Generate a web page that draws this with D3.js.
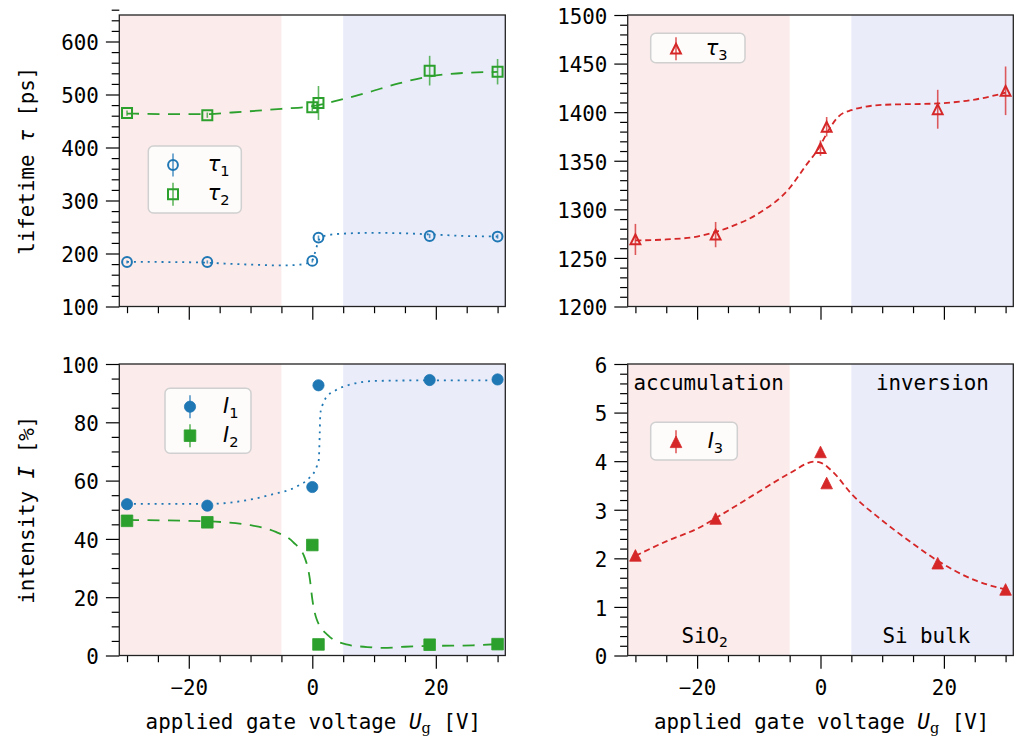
<!DOCTYPE html>
<html>
<head>
<meta charset="utf-8">
<script src="https://cdn.jsdelivr.net/npm/d3@7"></script>
<style>
  body { margin: 0; background: #fff; }
  svg text { font-family: "DejaVu Sans Mono", monospace; fill: #000; }
</style>
</head>
<body>
<div id="chart"></div>
<script>
// gate voltages of the measurements
var voltage = [-30, -17, 0, 1, 19, 30];

// lifetimes [ps]
var tau1 = [184, 184, 186, 230, 233, 232];
var tau1Err = [3, 3, 3, 4, 4, 4];
var tau2 = [465, 461, 476, 484, 545, 543];
var tau2Err = [5, 5, 7, 32, 28, 24];
var tau3 = [1269, 1274, 1363, 1385, 1403, 1422];
var tau3Err = [16, 13, 8, 10, 20, 25];

// intensities [%]
var int1 = [51.9, 51.4, 57.8, 92.7, 94.5, 94.7];
var int1Err = [0.8, 0.8, 0.8, 0.8, 0.8, 0.8];
var int2 = [46.2, 45.7, 37.9, 3.8, 3.7, 3.9];
var int2Err = [0.8, 0.8, 0.8, 0.8, 0.8, 0.8];
var int3 = [2.06, 2.82, 4.19, 3.55, 1.90, 1.36];
var int3Err = [0.08, 0.08, 0.08, 0.08, 0.08, 0.08];

// fitted curves as [voltage, value]
var fitTau1 = [[-30, 184.3], [-20, 183.5], [-10, 179], [-5, 177.5], [-2, 179], [-1, 181], [0, 187],
  [0.5, 204], [1, 224], [1.5, 231], [2.5, 234.5], [5, 237.5], [10, 239], [15, 238], [20, 235.5],
  [25, 233], [30, 232]];
var fitTau2 = [[-30, 464], [-22, 463], [-17, 463], [-13, 466], [-5, 473], [0, 478], [3.5, 487],
  [9, 504], [14, 521], [19, 534], [25, 541], [30, 542.5]];
var fitTau3 = [[-30, 1268], [-25, 1269], [-20, 1272], [-15, 1281], [-10, 1296], [-5, 1322],
  [-2.5, 1344], [0, 1366], [1, 1378], [3, 1396], [5, 1402], [10, 1407.5], [19, 1409], [25, 1413],
  [30, 1420]];
var fitInt1 = [[-30, 52], [-17, 52], [-10, 53.5], [-6.6, 55.2], [-2.3, 58.2], [-0.5, 60.9],
  [0.7, 64.7], [1.05, 67.2], [1.21, 76.6], [1.3, 83], [1.65, 85.9], [2.14, 88.2], [3.8, 91],
  [5.9, 92.8], [10.3, 94.2], [20, 94.4], [30, 94.4]];
var fitInt2 = [[-30, 46.5], [-17, 46], [-10, 44.7], [-5.9, 42.4], [-3.1, 38.9], [-1.2, 33.4],
  [-0.4, 26.3], [0.03, 18.9], [0.68, 12.6], [2.56, 6.9], [5.5, 3.8], [8.9, 2.9], [11.5, 2.6],
  [15, 3.0], [20, 3.3], [26, 3.5], [30, 3.9]];
var fitInt3 = [[-30, 2.05], [-25, 2.35], [-20, 2.61], [-15, 2.98], [-10, 3.37], [-5, 3.75],
  [-1, 3.99], [0, 3.97], [2, 3.78], [5, 3.33], [10, 2.78], [15, 2.30], [19, 1.95], [25, 1.55],
  [30, 1.36]];

// axis ranges and ticks
var xDomain = [-31.25, 31.25];
var xMajor = [-20, 0, 20];
var xMinor = [-30, -25, -15, -10, -5, 5, 10, 15, 25, 30];
var accumulationEdge = -5;
var inversionEdge = 5;

var tauDomain = [100, 650];
var tauMajor = [100, 200, 300, 400, 500, 600];
var tau3Domain = [1200, 1500];
var tau3Major = [1200, 1250, 1300, 1350, 1400, 1450, 1500];
var intDomain = [0, 100];
var intMajor = [0, 20, 40, 60, 80, 100];
var int3Domain = [0, 6];
var int3Major = [0, 1, 2, 3, 4, 5, 6];

var svgWidth = 1015;
var svgHeight = 736;

var blue = "#1f77b4";
var green = "#2ca02c";
var red = "#d62728";
var pinkShade = "#fbebeb";
var blueShade = "#eaecf9";
var fontSize = 20.83;

var svg = d3.select("#chart")
  .append("svg")
  .attr("width", svgWidth)
  .attr("height", svgHeight);

function range(a, b, step) {
  var out = [];
  var n = Math.round((b - a) / step);
  for (var i = 0; i <= n; i++) out.push(+(a + i * step).toFixed(6));
  return out;
}

// builds one subplot: shading, frame, ticks
function makePanel(left, top, width, height, yDomain, yMajor, yMinorStep, showXLabels) {
  var g = svg.append("g").attr("transform", `translate(${left}, ${top})`);
  var x = d3.scaleLinear().domain(xDomain).range([0, width]);
  var y = d3.scaleLinear().domain(yDomain).range([height, 0]);

  g.append("rect")
    .attr("x", 0).attr("y", 0)
    .attr("width", x(accumulationEdge)).attr("height", height)
    .attr("fill", pinkShade);
  g.append("rect")
    .attr("x", x(inversionEdge)).attr("y", 0)
    .attr("width", width - x(inversionEdge)).attr("height", height)
    .attr("fill", blueShade);

  var yMinor = range(yDomain[0], yDomain[1], yMinorStep)
    .filter(v => yMajor.indexOf(v) < 0);

  // minor ticks
  g.append("g")
    .call(d3.axisLeft(y).tickValues(yMinor).tickSize(7.6).tickFormat(""))
    .call(a => a.select(".domain").remove());
  g.append("g")
    .attr("transform", `translate(0, ${height})`)
    .call(d3.axisBottom(x).tickValues(xMinor).tickSize(6.7).tickFormat(""))
    .call(a => a.select(".domain").remove());

  // major ticks
  var yAxis = g.append("g")
    .call(d3.axisLeft(y).tickValues(yMajor).tickSize(13.4).tickPadding(7)
      .tickFormat(d => d3.format("d")(d).replace("-", "\u2212")));
  yAxis.select(".domain").remove();
  yAxis.selectAll("text")
    .attr("dy", null)
    .attr("y", 8.3)
    .attr("font-size", fontSize)
    .attr("font-family", "DejaVu Sans Mono");

  var xAxis = g.append("g")
    .attr("transform", `translate(0, ${height})`)
    .call(d3.axisBottom(x).tickValues(xMajor).tickSize(13.3)
      .tickFormat(d => showXLabels ? d3.format("d")(d).replace("-", "\u2212") : ""));
  xAxis.select(".domain").remove();
  xAxis.selectAll("text")
    .attr("dy", null)
    .attr("y", 39)
    .attr("font-size", fontSize)
    .attr("font-family", "DejaVu Sans Mono");

  g.selectAll(".tick line").attr("stroke", "#000").attr("stroke-width", 1.2);

  g.append("rect")
    .attr("width", width).attr("height", height)
    .attr("fill", "none")
    .attr("stroke", "#222")
    .attr("stroke-width", 1.3);

  return { g: g, x: x, y: y, width: width, height: height };
}

function markerPath(shape, s) {
  if (shape === "circle") return d3.symbol(d3.symbolCircle, Math.PI * s * s)();
  if (shape === "square") return `M${-s},${-s}H${s}V${s}H${-s}Z`;
  return `M0,${-s}L${s},${s}L${-s},${s}Z`;
}

function drawMarker(sel, shape, filled, color, cx, cy) {
  var s = filled ? { circle: 5.6, square: 5.8, triangle: 5.8 }[shape]
                 : { circle: 4.9, square: 5, triangle: 4.9 }[shape];
  sel.append("path")
    .attr("transform", `translate(${cx}, ${cy})`)
    .attr("d", markerPath(shape, s))
    .attr("fill", filled ? color : "none")
    .attr("stroke", color)
    .attr("stroke-width", filled ? 0.8 : 2);
}

// fit curve + error bars + markers for one series
function drawSeries(p, values, errs, fit, color, shape, filled, dash) {
  var line = d3.line()
    .x(d => p.x(d[0]))
    .y(d => p.y(d[1]))
    .curve(d3.curveMonotoneX);

  p.g.append("path")
    .datum(fit)
    .attr("d", line)
    .attr("fill", "none")
    .attr("stroke", color)
    .attr("stroke-width", 1.8)
    .attr("stroke-dasharray", dash);

  p.g.selectAll(null)
    .data(voltage)
    .enter()
    .append("line")
    .attr("x1", d => p.x(d))
    .attr("x2", d => p.x(d))
    .attr("y1", (d, i) => p.y(values[i] - errs[i]))
    .attr("y2", (d, i) => p.y(values[i] + errs[i]))
    .attr("stroke", color)
    .attr("stroke-opacity", 0.75)
    .attr("stroke-width", 1.6);

  voltage.forEach(function(v, i) {
    drawMarker(p.g, shape, filled, color, p.x(v), p.y(values[i]));
  });
}

function symbolLabel(sel, name, sub) {
  sel.append("tspan")
    .attr("font-family", "DejaVu Sans")
    .attr("font-style", "italic")
    .text(name);
  sel.append("tspan")
    .attr("font-family", "DejaVu Sans")
    .attr("font-size", fontSize * 0.7)
    .attr("dy", 5)
    .text(sub);
}

// rounded legend box with errorbar style handles
function drawLegend(p, bx, by, bw, bh, markerX, textX, items) {
  var lg = p.g.append("g").attr("transform", `translate(${bx}, ${by})`);
  lg.append("rect")
    .attr("width", bw).attr("height", bh)
    .attr("rx", 5).attr("ry", 5)
    .attr("fill", "#fff").attr("fill-opacity", 0.8)
    .attr("stroke", "#d0d0d0").attr("stroke-width", 1.5);
  items.forEach(function(it) {
    lg.append("line")
      .attr("x1", markerX).attr("x2", markerX)
      .attr("y1", it.row - 11.5).attr("y2", it.row + 11.5)
      .attr("stroke", it.color).attr("stroke-opacity", 0.75).attr("stroke-width", 1.6);
    drawMarker(lg, it.shape, it.filled, it.color, markerX, it.row);
    var t = lg.append("text")
      .attr("x", textX).attr("y", it.row + 6)
      .attr("font-size", fontSize);
    symbolLabel(t, it.name, it.sub);
  });
}

var leftX = 119.3, rightX = 627.7, panelW = 386, topY = 15, bottomY = 364, panelH = 291.5;

var pTau = makePanel(leftX, topY, panelW, panelH, tauDomain, tauMajor, 20, false);
var pTau3 = makePanel(rightX, topY, panelW - 0.4, panelH, tau3Domain, tau3Major, 10, false);
var pInt = makePanel(leftX, bottomY, panelW, panelH, intDomain, intMajor, 5, true);
var pInt3 = makePanel(rightX, bottomY, panelW - 0.4, panelH, int3Domain, int3Major, 0.2, true);

drawSeries(pTau, tau1, tau1Err, fitTau1, blue, "circle", false, "2,4.9");
drawSeries(pTau, tau2, tau2Err, fitTau2, green, "square", false, "12,8.5");
drawSeries(pTau3, tau3, tau3Err, fitTau3, red, "triangle", false, "6,3.8");
drawSeries(pInt, int1, int1Err, fitInt1, blue, "circle", true, "2,4.9");
drawSeries(pInt, int2, int2Err, fitInt2, green, "square", true, "12,8.5");
drawSeries(pInt3, int3, int3Err, fitInt3, red, "triangle", true, "6,3.8");

drawLegend(pTau, 29, 131, 93, 67, 24.7, 59.5, [
  { row: 19, color: blue, shape: "circle", filled: false, name: "τ", sub: "1" },
  { row: 48.3, color: green, shape: "square", filled: false, name: "τ", sub: "2" }
]);
drawLegend(pTau3, 23, 18.3, 94.3, 29.4, 25.3, 55, [
  { row: 15.4, color: red, shape: "triangle", filled: false, name: "τ", sub: "3" }
]);
drawLegend(pInt, 45.7, 24.3, 86, 65, 25, 58, [
  { row: 18.4, color: blue, shape: "circle", filled: true, name: "I", sub: "1" },
  { row: 47.4, color: green, shape: "square", filled: true, name: "I", sub: "2" }
]);
drawLegend(pInt3, 23, 58.3, 86.6, 37.7, 25.3, 57, [
  { row: 19.5, color: red, shape: "triangle", filled: true, name: "I", sub: "3" }
]);

// region annotations
var accCenter = (xDomain[0] + accumulationEdge) / 2;
var invCenter = (xDomain[1] + inversionEdge) / 2;
pInt3.g.append("text")
  .attr("x", pInt3.x(accCenter)).attr("y", 26)
  .attr("text-anchor", "middle").attr("font-size", fontSize)
  .text("accumulation");
pInt3.g.append("text")
  .attr("x", pInt3.x(invCenter)).attr("y", 26)
  .attr("text-anchor", "middle").attr("font-size", fontSize)
  .text("inversion");
var sio2 = pInt3.g.append("text")
  .attr("x", pInt3.x(accCenter) - 4).attr("y", 278.7)
  .attr("text-anchor", "middle").attr("font-size", fontSize)
  .text("SiO");
sio2.append("tspan").attr("font-size", 14.5).attr("dy", 4).text("2");
pInt3.g.append("text")
  .attr("x", pInt3.x(invCenter) - 6).attr("y", 278.7)
  .attr("text-anchor", "middle").attr("font-size", fontSize)
  .text("Si bulk");

// axis titles
function yTitle(p, parts) {
  var t = svg.append("text")
    .attr("transform", `translate(34, ${p.centerY}) rotate(-90)`)
    .attr("text-anchor", "middle")
    .attr("font-size", fontSize);
  parts.forEach(function(part) {
    t.append("tspan").attr("font-style", part.italic ? "italic" : null).text(part.text);
  });
}
pTau.centerY = topY + panelH / 2;
pInt.centerY = bottomY + panelH / 2;
yTitle(pTau, [{ text: "lifetime " }, { text: "τ", italic: true }, { text: " [ps]" }]);
yTitle(pInt, [{ text: "intensity " }, { text: "I", italic: true }, { text: " [%]" }]);

[leftX, rightX].forEach(function(px) {
  var t = svg.append("text")
    .attr("x", px + panelW / 2 + 1)
    .attr("y", 728.5)
    .attr("text-anchor", "middle")
    .attr("font-size", fontSize);
  t.append("tspan").text("applied gate voltage ");
  t.append("tspan").attr("font-style", "italic").text("U");
  t.append("tspan").attr("font-family", "DejaVu Serif").attr("font-size", 14.5).attr("dy", 4).text("g");
  t.append("tspan").attr("dy", -4).text(" [V]");
});
</script>
</body>
</html>
